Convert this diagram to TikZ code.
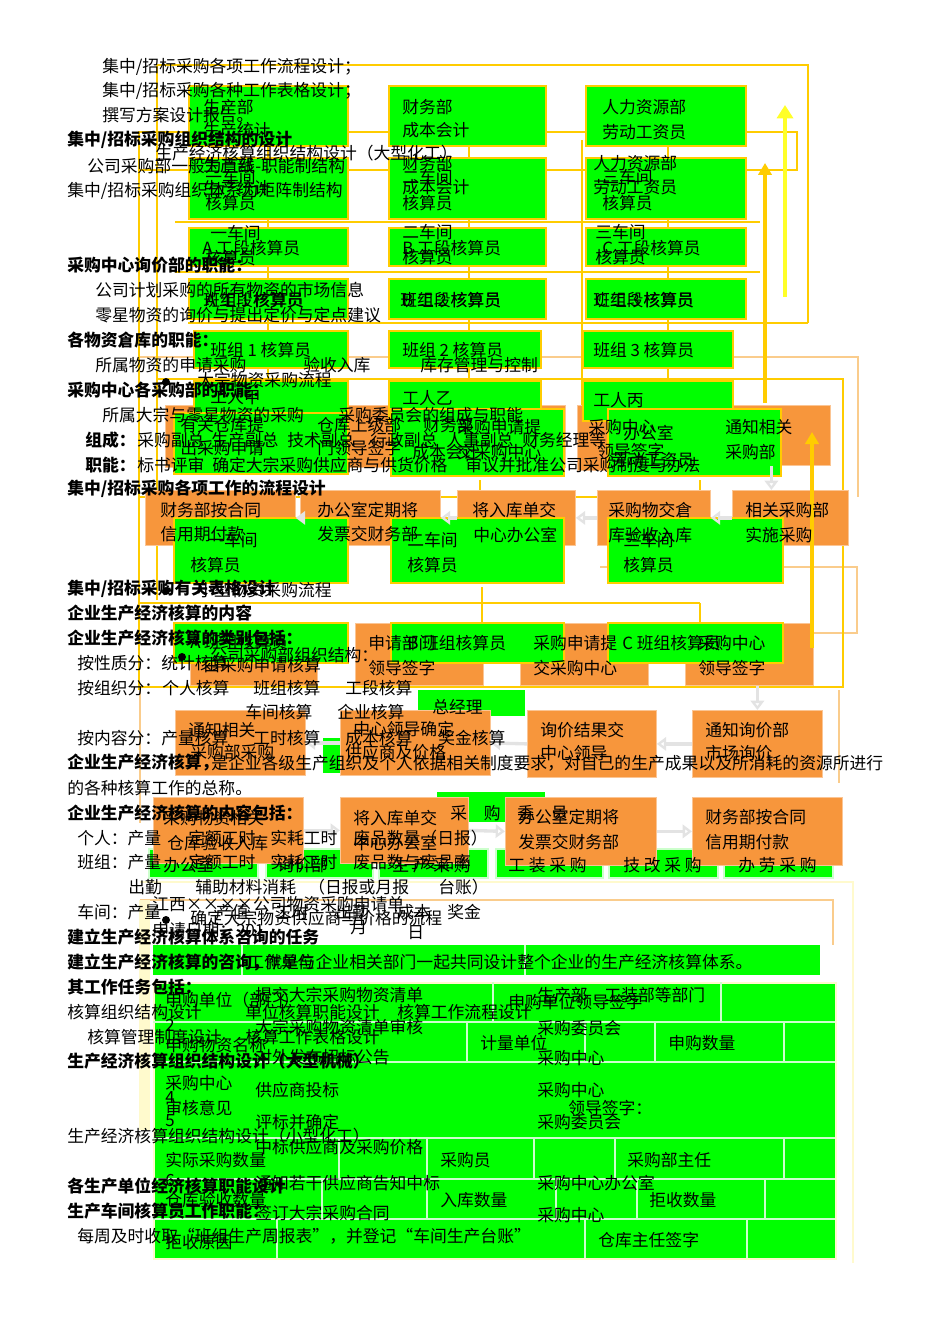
\documentclass[tikz,border=0pt]{standalone}
\usepackage{fontspec}
\setmainfont{Noto Sans CJK SC}
\usetikzlibrary{arrows.meta}
\definecolor{gr}{RGB}{0,255,0}
\definecolor{yl}{RGB}{255,204,0}
\definecolor{by}{RGB}{255,255,40}
\definecolor{orng}{RGB}{247,150,60}
\definecolor{tanc}{RGB}{250,204,140}
\definecolor{lgrid}{RGB}{204,255,204}
\definecolor{beig}{RGB}{255,250,205}
\newcommand\fs{\fontsize{12.6}{14}\selectfont}
\newcommand\bx[6]{\node[#2,anchor=north west,minimum width={(#5-#3)*0.75pt},minimum height={(#6-#4)*0.75pt}] (#1) at (#3,#4) {};}
\begin{document}
\begin{tikzpicture}[x=0.75pt,y=-0.75pt,
 t/.style={anchor=west,inner sep=0pt,font=\fs},
 hb/.style={anchor=west,inner sep=0pt,font=\fs\bfseries},
 gb/.style={fill=gr,draw=yl,line width=1.5pt,inner sep=0pt},
 gp/.style={fill=gr,draw=none,inner sep=0pt},
 ob/.style={fill=orng,draw=orng!55!white,line width=0.6pt,inner sep=0pt},
 yln/.style={draw=yl,line width=2.2pt},
 tln/.style={draw=tanc,line width=2pt},
 grd/.style={draw=lgrid,line width=1pt},
 yarr/.style={draw=yl,line width=2.6pt,-{Triangle[length=9pt,width=10pt]}},
 barr/.style={draw=by,line width=3pt,-{Triangle[length=10pt,width=12pt]}},
 warr/.style={draw=gray!22,line width=2.5pt,-{Triangle[length=7pt,width=10pt,open]}},
 dot/.style={circle,fill=black,inner sep=0pt,minimum size=6pt}]
\fill[white] (0,0) rectangle (950,1344);
\useasboundingbox (0,0) rectangle (950,1344);

% ---------- light frames ----------
\draw[tln] (139,357) -- (858,357) -- (858,497);
\draw[tln] (600,567) -- (857,567) -- (857,633) -- (813,633);
\draw[tln] (140,690) -- (140,823);
\draw[tln] (839,690) -- (839,783);
\draw[draw=beig,line width=2pt] (140,882) -- (853,882) -- (853,1263);
\draw[tln] (140,900) -- (833,900) -- (833,945);
\fill[beig] (139,900) rectangle (150,1130);

% ---------- requisition / flow table ----------
\bx{tabA}{gp}{153}{945}{820}{975}
\bx{tabB}{gp,draw=beig,line width=1.5pt}{153}{982}{835}{1258}
\draw[grd] (242,945) -- (242,975);
\draw[grd] (525,945) -- (525,975);
\foreach \yy in {1022,1062,1138,1179,1219} \draw[grd] (153,\yy) -- (835,\yy);
\foreach \xx in {493,721} \draw[grd] (\xx,982) -- (\xx,1022);
\foreach \xx in {467,585,655,784} \draw[grd] (\xx,1022) -- (\xx,1062);
\foreach \xx in {339,427,534,615,784} \draw[grd] (\xx,1138) -- (\xx,1179);
\foreach \xx in {322,427,556,637,765} \draw[grd] (\xx,1179) -- (\xx,1219);
\foreach \xx in {277,585,747} \draw[grd] (\xx,1219) -- (\xx,1258);

% ---------- yellow frame lines (behind) ----------
\draw[yln] (157,600) -- (157,65) -- (808,65) -- (808,323);
\draw[yln] (139,132) rectangle (797,170);
\draw[yln] (139,132) -- (139,690);
\draw[yln] (582,140) -- (582,420);
\draw[yln] (175,222) -- (760,222);
\draw[yln] (175,272) -- (760,272);
\draw[yln] (188,323) -- (808,323);
\draw[yln] (157,379) -- (843,379) -- (843,687) -- (140,687);
\draw[yln] (140,497) -- (700,497);
\draw[yln] (480,480) -- (480,497);
\draw[yln] (700,480) -- (700,517);
\draw[yln] (140,603) -- (700,603);
\draw[yln] (482,587) -- (482,622);
\draw[yln] (700,603) -- (700,622);

% ---------- orange flow boxes (upper) ----------
\bx{oA1}{ob}{165}{405}{300}{467}
\bx{oA2}{ob}{305}{405}{440}{467}
\bx{oA3}{ob}{450}{405}{565}{467}
\bx{oA4}{ob}{577}{405}{705}{470}
\bx{oA5}{ob}{712}{405}{830}{465}
\bx{oB1}{ob}{145}{490}{295}{545}
\bx{oB2}{ob}{300}{490}{440}{545}
\bx{oB3}{ob}{457}{490}{575}{545}
\bx{oB4}{ob}{597}{490}{710}{545}
\bx{oB5}{ob}{732}{490}{848}{545}
\bx{oC0}{ob}{190}{655}{317}{685}
\bx{oC1}{ob}{355}{623}{483}{685}
\bx{oC2}{ob}{520}{623}{648}{685}
\bx{oC3}{ob}{685}{623}{813}{685}

% ---------- green organisation boxes ----------
\bx{g11}{gb}{188}{85}{347}{145}
\bx{g12}{gb}{388}{85}{545}{145}
\bx{g13}{gb}{585}{85}{745}{145}
\bx{g21}{gb}{188}{157}{347}{218}
\bx{g22}{gb}{388}{157}{545}{218}
\bx{g23}{gb}{585}{157}{745}{218}
\bx{g31}{gb}{188}{227}{347}{265}
\bx{g32}{gb}{388}{227}{545}{265}
\bx{g33}{gb}{585}{227}{745}{265}
\bx{g41}{gb}{188}{278}{347}{318}
\bx{g42}{gb}{388}{278}{545}{318}
\bx{g43}{gb}{585}{278}{745}{318}
\bx{g51}{gb}{193}{330}{347}{367}
\bx{g52}{gb}{388}{330}{540}{367}
\bx{g53}{gb}{582}{330}{732}{367}
\bx{g61}{gb}{193}{380}{347}{420}
\bx{g62}{gb}{388}{380}{540}{420}
\bx{g63}{gb}{582}{380}{732}{420}
\bx{gA1}{gb}{173}{412}{347}{473}
\bx{gA2}{gb}{390}{408}{563}{475}
\bx{gA3}{gb}{607}{408}{780}{475}
\bx{gB1}{gb}{173}{517}{347}{582}
\bx{gB2}{gb}{390}{517}{563}{582}
\bx{gB3}{gb}{607}{517}{782}{582}
\bx{gC1}{gb}{173}{622}{347}{662}
\bx{gC2}{gb}{390}{622}{563}{662}
\bx{gC3}{gb}{607}{622}{782}{662}
\bx{gC4}{gp}{418}{690}{525}{716}

% short connectors over the boxes
\foreach \xx in {268,469,668}{
  \draw[yln] (\xx,145) -- (\xx,157);
  \draw[yln] (\xx,218) -- (\xx,227);
  \draw[yln] (\xx,265) -- (\xx,278);
  \draw[yln] (\xx,318) -- (\xx,330);
  \draw[yln] (\xx,367) -- (\xx,380);}

% ---------- lower flow ----------
\bx{gD}{gp}{323}{738}{420}{773}
\bx{gE}{gp}{437}{792}{545}{822}
\bx{gF1}{gb,draw=lgrid}{148}{848}{257}{877}
\bx{gF2}{gb,draw=lgrid}{265}{848}{372}{877}
\bx{gF3}{gb,draw=lgrid}{378}{848}{487}{877}
\bx{gF4}{gb,draw=lgrid}{495}{848}{602}{877}
\bx{gF5}{gb,draw=lgrid}{608}{848}{717}{877}
\bx{gF6}{gb,draw=lgrid}{723}{848}{832}{877}
\bx{oD1}{ob}{175}{710}{305}{775}
\bx{oD2}{ob}{340}{710}{490}{775}
\bx{oD3}{ob}{527}{710}{656}{777}
\bx{oD4}{ob}{692}{710}{822}{777}
\bx{oE1}{ob}{153}{797}{303}{863}
\bx{oE2}{ob}{340}{797}{468}{863}
\bx{oE3}{ob}{505}{797}{656}{865}
\bx{oE4}{ob}{692}{797}{842}{865}

% ---------- arrows ----------
\draw[warr] (oA5.south) -- (oA5.south |- oB5.north);
\draw[warr] (oB5.west) -- (oB4.east);
\draw[warr] (oB4.west) -- (oB3.east);
\draw[warr] (oB3.west) -- (oB2.east);
\draw[warr] (oB2.west) -- (oB1.east);
\draw[warr] (oC3.south -| oD4.north) -- (oD4.north);
\draw[warr] (oD4.west) -- (oD3.east);
\draw[warr] (oD3.west) -- (oD2.east);
\draw[warr] (oD2.west) -- (oD1.east);
\draw[warr] (oE1.east) -- (oE2.west);
\draw[warr] (oE2.east) -- (oE3.west);
\draw[warr] (oE3.east) -- (oE4.west);
\coordinate (ya1) at (765,403); \coordinate (ya2) at (765,163);
\coordinate (yb1) at (785,297); \coordinate (yb2) at (785,105);
\coordinate (yc1) at (812,648); \coordinate (yc2) at (812,432);
\draw[yarr] (ya1) -- (ya2);
\draw[barr] (yb1) -- (yb2);
\draw[yarr] (yc1) -- (yc2);

% ---------- texts in the organisation chart ----------
\node[t] (c1) at (203,107) {生产部};
\node[t] (c2) at (203,130) {生产统计};
\node[t] (c3) at (402,107) {财务部};
\node[t] (c4) at (402,130) {成本会计};
\node[t] (c5) at (602,107) {人力资源部};
\node[t] (c6) at (602,132) {劳动工资员};
\node[t] (c7) at (155,153) {生产经济核算组织结构设计（大型化工）};
\node[t] (c8) at (203,165) {生产部};
\node[t] (c9) at (203,188) {生产统计};
\node[t] (c10) at (205,177) {一车间};
\node[t] (c11) at (205,203) {核算员};
\node[t] (c12) at (402,163) {财务部};
\node[t] (c13) at (402,187) {成本会计};
\node[t] (c14) at (402,177) {二车间};
\node[t] (c15) at (402,203) {核算员};
\node[t] (c16) at (593,163) {人力资源部};
\node[t] (c17) at (593,187) {劳动工资员};
\node[t] (c18) at (602,177) {三车间};
\node[t] (c19) at (602,203) {核算员};
\node[t] (c20) at (210,233) {一车间};
\node[t] (c21) at (202,248) {A 工段核算员};
\node[t] (c22) at (205,258) {核算员};
\node[t] (c23) at (402,232) {二车间};
\node[t] (c24) at (402,248) {B 工段核算员};
\node[t] (c25) at (402,257) {核算员};
\node[t] (c26) at (595,232) {三车间};
\node[t] (c27) at (602,248) {C 工段核算员};
\node[t] (c28) at (595,257) {核算员};
\node[t] (c29) at (205,300) {A 工段核算员};
\node[t] (c30) at (203,300) {班组 1 核算员};
\node[t] (c31) at (402,300) {B 工段核算员};
\node[t] (c32) at (400,300) {班组 2 核算员};
\node[t] (c33) at (595,300) {C 工段核算员};
\node[t] (c34) at (593,300) {班组 3 核算员};
\node[t] (c35) at (210,350) {班组 1 核算员};
\node[t] (c36) at (402,350) {班组 2 核算员};
\node[t] (c37) at (593,350) {班组 3 核算员};
\node[t] (c38) at (210,397) {工人甲};
\node[t] (c39) at (402,398) {工人乙};
\node[t] (c40) at (593,400) {工人丙};
\node[dot] (d1) at (166,382) {};
\node[t] (c41) at (197,380) {大宗物资采购流程};

% ---------- texts in the flow boxes ----------
\node[t] (f1) at (180,425) {有关仓库提};
\node[t] (f2) at (180,448) {出采购申请};
\node[t] (f3) at (317,425) {仓库上级部};
\node[t] (f4) at (317,448) {门领导签字};
\node[t] (f5) at (423,425) {财务部};
\node[t] (f6) at (412,452) {成本会计};
\node[t] (f7) at (457,427) {采购申请提};
\node[t] (f8) at (457,452) {交采购中心};
\node[t] (f9) at (588,427) {采购中心};
\node[t] (f10) at (623,433) {办公室};
\node[t] (f11) at (597,451) {领导签字};
\node[t] (f12) at (610,460) {劳动工资员};
\node[t] (f13) at (725,427) {通知相关};
\node[t] (f14) at (725,452) {采购部};
\node[t] (f15) at (160,510) {财务部按合同};
\node[t] (f16) at (160,534) {信用期付款};
\node[t] (f17) at (317,510) {办公室定期将};
\node[t] (f18) at (317,534) {发票交财务部};
\node[t] (f19) at (472,510) {将入库单交};
\node[t] (f20) at (473,535) {中心办公室};
\node[t] (f21) at (608,510) {采购物交倉};
\node[t] (f22) at (608,535) {库验收入库};
\node[t] (f23) at (745,510) {相关采购部};
\node[t] (f24) at (745,535) {实施采购};
\node[t] (f25) at (207,540) {一车间};
\node[t] (f26) at (190,565) {核算员};
\node[t] (f27) at (407,540) {二车间};
\node[t] (f28) at (407,565) {核算员};
\node[t] (f29) at (623,540) {三车间};
\node[t] (f30) at (623,565) {核算员};
\node[dot] (d2) at (166,591) {};
\node[t] (f31) at (197,590) {小型物资采购流程};
\node[t] (f32) at (190,642) {A 班组核算员};
\node[dot] (d3) at (182,657) {};
\node[t] (f33) at (210,655) {公司采购部组织结构：};
\node[t] (f34) at (203,665) {由采购申请核算};
\node[t] (f35) at (368,643) {申请部门};
\node[t] (f36) at (368,668) {领导签字};
\node[t] (f37) at (407,643) {B 班组核算员};
\node[t] (f38) at (533,643) {采购申请提};
\node[t] (f39) at (533,668) {交采购中心};
\node[t] (f40) at (622,643) {C 班组核算员};
\node[t] (f41) at (698,643) {采购中心};
\node[t] (f42) at (698,668) {领导签字};
\node[t] (f43) at (432,707) {总经理};
\node[t] (f44) at (188,730) {通知相关};
\node[t] (f45) at (190,752) {采购部采购};
\node[t] (f46) at (353,729) {中心领导确定};
\node[t] (f47) at (345,752) {供应商及价格};
\node[t] (f48) at (540,730) {询价结果交};
\node[t] (f49) at (540,753) {中心领导};
\node[t] (f50) at (705,730) {通知询价部};
\node[t] (f51) at (705,753) {市场询价};
\node[t] (f52) at (163,818) {采购物资相关};
\node[t] (f53) at (167,843) {仓库验收入库};
\node[t] (f54) at (353,818) {将入库单交};
\node[t] (f55) at (353,843) {中心办公室};
\node[t] (f56) at (450,813) {采　购　委　员};
\node[t] (f57) at (518,817) {办公室定期将};
\node[t] (f58) at (518,842) {发票交财务部};
\node[t] (f59) at (705,817) {财务部按合同};
\node[t] (f60) at (705,842) {信用期付款};
\node[t] (f61) at (163,865) {办公室};
\node[t] (f62) at (277,865) {询价部};
\node[t] (f63) at (392,865) {生 产 采 购};
\node[t] (f64) at (508,865) {工 装 采 购};
\node[t] (f65) at (623,865) {技 改 采 购};
\node[t] (f66) at (738,865) {办 劳 采 购};

% ---------- texts of the form ----------
\node[t] (p1) at (152,904) {江西××××公司物资采购申请单};
\node[dot] (d4) at (166,920) {};
\node[t] (p2) at (190,918) {确定大宗物资供应商与价格的流程};
\node[t] (p3) at (152,930) {申请日期：201};
\node[t] (p4) at (350,928) {月};
\node[t] (p5) at (407,933) {日};
\node[t] (p6) at (247,962) {工作单位};
\node[t] (p7) at (165,1000) {申购单位（部门）};
\node[t] (p8) at (255,995) {提交大宗采购物资清单};
\node[t] (p9) at (508,1002) {申购单位领导签字};
\node[t] (p10) at (537,995) {生产部　工装部等部门};
\node[t] (p11) at (165,1025) {2};
\node[t] (p12) at (255,1027) {大宗采购物资清单审核};
\node[t] (p13) at (537,1028) {采购委员会};
\node[t] (p14) at (165,1045) {申购物资名称};
\node[t] (p15) at (480,1043) {计量单位};
\node[t] (p16) at (668,1043) {申购数量};
\node[t] (p17) at (255,1057) {对外发布招标公告};
\node[t] (p18) at (537,1058) {采购中心};
\node[t] (p19) at (165,1083) {采购中心};
\node[t] (p20) at (165,1097) {4};
\node[t] (p21) at (255,1090) {供应商投标};
\node[t] (p22) at (537,1090) {采购中心};
\node[t] (p23) at (165,1108) {审核意见};
\node[t] (p24) at (568,1108) {领导签字：};
\node[t] (p25) at (165,1121) {5};
\node[t] (p26) at (255,1122) {评标并确定};
\node[t] (p27) at (537,1122) {采购委员会};
\node[t] (p28) at (255,1147) {中标供应商及采购价格};
\node[t] (p29) at (165,1160) {实际采购数量};
\node[t] (p30) at (440,1160) {采购员};
\node[t] (p31) at (627,1160) {采购部主任};
\node[t] (p32) at (165,1180) {6};
\node[t] (p33) at (255,1183) {通知若干供应商告知中标};
\node[t] (p34) at (537,1183) {采购中心办公室};
\node[t] (p35) at (165,1200) {仓库验收数量};
\node[t] (p36) at (440,1200) {入库数量};
\node[t] (p37) at (649,1200) {拒收数量};
\node[t] (p38) at (255,1213) {签订大宗采购合同};
\node[t] (p39) at (537,1215) {采购中心};
\node[t] (p40) at (165,1242) {拒收原因};
\node[t] (p41) at (598,1240) {仓库主任签字};

% ---------- page text ----------
\node[t] (m1) at (102,67) {集中/招标采购各项工作流程设计；};
\node[t] (m2) at (102,91) {集中/招标采购各种工作表格设计；};
\node[t] (m3) at (102,115) {撰写方案设计报告。};
\node[t] (m5) at (87,166) {公司采购部一般为直线-职能制结构};
\node[t] (m6) at (67,191) {集中/招标采购组织体系为矩阵制结构};
\node[t] (m8) at (95,290) {公司计划采购的所有物资的市场信息};
\node[t] (m9) at (95,315) {零星物资的询价与提出定价与定点建议};
\node[t] (m11) at (95,365) {所属物资的申请采购};
\node[t] (m12) at (303,365) {验收入库};
\node[t] (m13) at (420,365) {库存管理与控制};
\node[t] (m15) at (102,415) {所属大宗与零星物资的采购};
\node[t] (m16) at (338,415) {采购委员会的组成与职能};
\node[t] (m18) at (137,440) {采购副总};
\node[t] (m19) at (211,440) {生产副总};
\node[t] (m20) at (287,440) {技术副总};
\node[t] (m21) at (370,440) {行政副总};
\node[t] (m22) at (446,440) {人事副总};
\node[t] (m23) at (522,440) {财务经理等};
\node[t] (m25) at (137,465) {标书评审};
\node[t] (m26) at (212,465) {确定大宗采购供应商与供货价格};
\node[t] (m27) at (465,465) {审议并批准公司采购制度与办法};
\node[t] (m32) at (77,663) {按性质分：统计核算};
\node[t] (m33) at (77,688) {按组织分：};
\node[t] (m34) at (162,688) {个人核算};
\node[t] (m35) at (253,688) {班组核算};
\node[t] (m36) at (345,688) {工段核算};
\node[t] (m37) at (245,712) {车间核算};
\node[t] (m38) at (337,712) {企业核算};
\node[t] (m39) at (77,738) {按内容分：产量核算};
\node[t] (m40) at (253,738) {工时核算};
\node[t] (m41) at (345,738) {成本核算};
\node[t] (m42) at (438,738) {奖金核算};
\node[t] (m44) at (211,763) {是企业各级生产组织及个人依据相关制度要求，对自己的生产成果以及所消耗的资源所进行};
\node[t] (m45) at (67,788) {的各种核算工作的总称。};
\node[t] (m47) at (77,838) {个人：产量};
\node[t] (m47b) at (188,838) {定额工时};
\node[t] (m47c) at (270,838) {实耗工时};
\node[t] (m47d) at (353,838) {废品数量（日报）};
\node[t] (m48) at (77,862) {班组：产量};
\node[t] (m48b) at (188,862) {定额工时};
\node[t] (m48c) at (270,862) {实耗工时};
\node[t] (m48d) at (353,862) {废品数与废品率};
\node[t] (m49) at (128,887) {出勤};
\node[t] (m49b) at (195,887) {辅助材料消耗};
\node[t] (m49c) at (308,887) {（日报或月报};
\node[t] (m49d) at (438,887) {台账）};
\node[t] (m50) at (77,912) {车间：产量};
\node[t] (m50b) at (215,912) {产值};
\node[t] (m50c) at (275,912) {工时};
\node[t] (m50d) at (335,912) {出勤};
\node[t] (m50e) at (397,912) {成本};
\node[t] (m50f) at (447,912) {奖金};
\node[t] (m53) at (265,962) {就是与企业相关部门一起共同设计整个企业的生产经济核算体系。};
\node[t] (m55) at (67,1012) {核算组织结构设计};
\node[t] (m55b) at (245,1012) {单位核算职能设计};
\node[t] (m55c) at (397,1012) {核算工作流程设计};
\node[t] (m56) at (87,1037) {核算管理制度设计};
\node[t] (m56b) at (245,1037) {核算工作表格设计};
\node[t] (m58) at (67,1136) {生产经济核算组织结构设计（小型化工）};
\node[t] (m61) at (77,1236) {每周及时收取“班组生产周报表”，并登记“车间生产台账”};

% ---------- bold headings ----------
\node[hb] (h1) at (67,140) {集中/招标采购组织结构的设计};
\node[hb] (h2) at (67,265) {采购中心询价部的职能：};
\node[hb] (h3) at (67,340) {各物资倉库的职能：};
\node[hb] (h4) at (67,390) {采购中心各采购部的职能：};
\node[hb] (h5) at (85,440) {组成：};
\node[hb] (h6) at (85,465) {职能：};
\node[hb] (h7) at (67,489) {集中/招标采购各项工作的流程设计};
\node[hb] (h8) at (67,589) {集中/招标采购有关表格设计};
\node[hb] (h9) at (67,613) {企业生产经济核算的内容};
\node[hb] (h10) at (67,638) {企业生产经济核算的类别包括：};
\node[hb] (h11) at (67,763) {企业生产经济核算，};
\node[hb] (h12) at (67,813) {企业生产经济核算的内容包括：};
\node[hb] (h13) at (67,937) {建立生产经济核算体系咨询的任务};
\node[hb] (h14) at (67,962) {建立生产经济核算的咨询，};
\node[hb] (h15) at (67,987) {其工作任务包括：};
\node[hb] (h16) at (67,1061) {生产经济核算组织结构设计（大型机械）};
\node[hb] (h17) at (67,1186) {各生产单位经济核算职能设计};
\node[hb] (h18) at (67,1211) {生产车间核算员工作职能：};
\end{tikzpicture}
\end{document}
